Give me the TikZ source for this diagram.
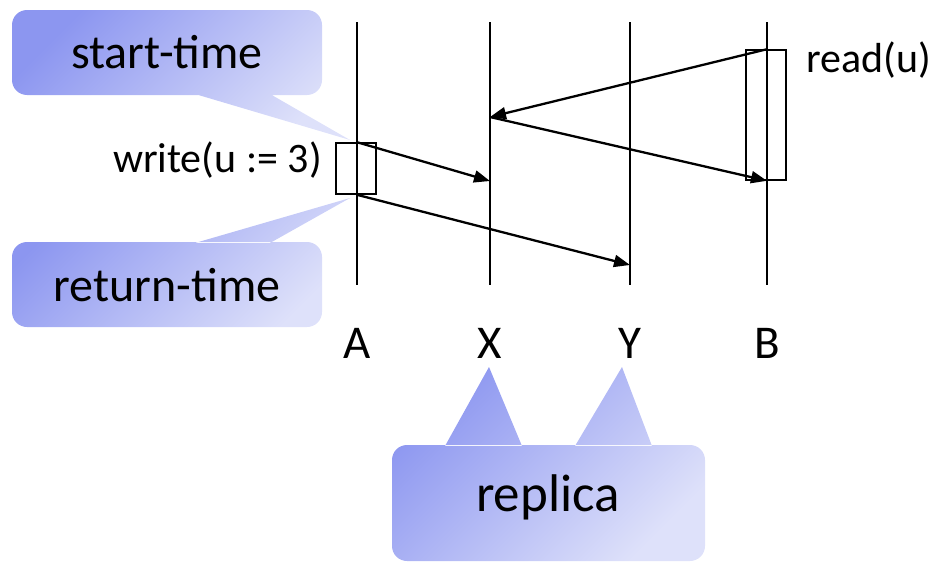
\documentclass[tikz,border=0pt]{standalone}
\usepackage{fontspec}
\setmainfont{Carlito}
\usepackage{tikz}
\usetikzlibrary{arrows.meta,positioning,calc}

\definecolor{calldark}{RGB}{140,150,240}
\definecolor{calllight}{RGB}{222,225,250}

\begin{document}
\begin{tikzpicture}[x=1pt, y=-1pt,
  callout/.style={top color=calldark, bottom color=calllight, shading angle=45, draw=none},
  life/.style={line width=1.8pt},
  opbox/.style={draw, line width=1.6pt, minimum width=40pt, inner sep=0pt},
  arr/.style={-{Triangle[length=16pt,width=12pt]}, line width=2.3pt},
  tag/.style={font=\fontsize{48}{50}\selectfont, inner sep=0pt},
  proc/.style={font=\fontsize{47}{49}\selectfont, inner sep=0pt},
  op/.style={font=\fontsize{42}{44}\selectfont, inner sep=0pt}]
  \useasboundingbox (0,0) rectangle (932,562);

  % callout shapes
  \shade[callout] {[rounded corners=15pt] (12,10) rectangle (322,95)}
     (195,94) -- (350,140) -- (270,94) -- cycle;
  \shade[callout] {[rounded corners=15pt] (12,242) rectangle (322,327)}
     (195,243) -- (350,198) -- (270,243) -- cycle;
  \shade[callout] {[rounded corners=15pt] (392,445) rectangle (705,561)}
     (445,446) -- (489,367) -- (522,446) -- cycle
     (575,446) -- (622,367) -- (652,446) -- cycle;
  \node[tag] (start) at (167,52) {start-time};
  \node[tag] (ret) at (167,285) {return-time};
  \node[font=\fontsize{53}{55}\selectfont, inner sep=0pt] (replica) at (548,497) {replica};

  % processes and lifelines
  \node[proc] (A) at (357,343) {A};
  \node[proc] (X) at (490,343) {X};
  \node[proc] (Y) at (630,343) {Y};
  \node[proc] (B) at (767,343) {B};
  \foreach \p in {A,X,Y,B}
    \draw[life] (\p |- 0,22) -- (\p |- 0,285);

  % operations
  \node[opbox, minimum height=51pt] (wbox) at (356,168.5) {};
  \node[opbox, minimum height=130pt] (rbox) at (766,115) {};
  \node[op, anchor=east] (write) at (322,160) {write(u := 3)};
  \node[op, anchor=west] (read) at (806,60) {read(u)};

  \coordinate (w1) at (A |- wbox.north);
  \coordinate (w2) at (A |- wbox.south);
  \coordinate (r1) at (B |- rbox.north);
  \coordinate (r2) at (B |- rbox.south);
  \coordinate (xa) at (X |- 0,181);
  \coordinate (xr) at (X |- 0,117);
  \coordinate (ya) at (Y |- 0,265);

  \draw[arr] (w1) -- (xa);
  \draw[arr] (w2) -- (ya);
  \draw[arr] (r1) -- (xr);
  \draw[arr] (xr) -- (r2);
\end{tikzpicture}
\end{document}
